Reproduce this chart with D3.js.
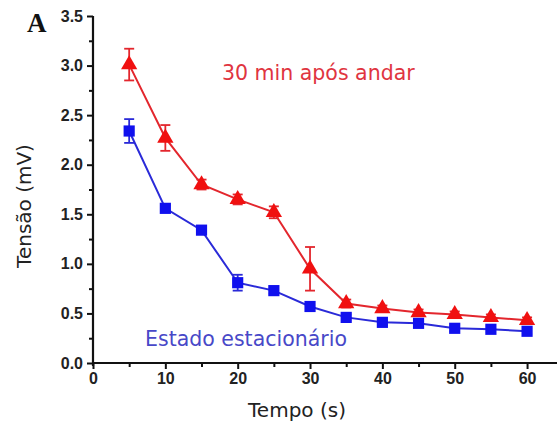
<!DOCTYPE html>
<html><head><meta charset="utf-8">
<script src="https://cdn.jsdelivr.net/npm/d3@7"></script>
<style>body{margin:0;background:#fff}svg{display:block}</style>
</head><body>
<svg id="c" width="557" height="427"></svg>
<script>
const times = [5,10,15,20,25,30,35,40,45,50,55,60];
const redValues = [3.01,2.27,1.80,1.65,1.52,0.95,0.60,0.55,0.51,0.49,0.46,0.43];
const redErrors = [0.16,0.13,0.05,0.05,0.06,0.22,0.04,0.03,0.03,0.03,0.03,0.03];
const blueValues = [2.34,1.56,1.34,0.81,0.73,0.57,0.46,0.41,0.40,0.35,0.34,0.32];
const blueErrors = [0.12,0.03,0.03,0.08,0.03,0.03,0.03,0.03,0.03,0.03,0.03,0.03];
const xTicks = [0,10,20,30,40,50,60];
const xMinor = [5,15,25,35,45,55];
const yTicks = [0,0.5,1.0,1.5,2.0,2.5,3.0,3.5];
const yMinor = [0.25,0.75,1.25,1.75,2.25,2.75,3.25];

const svg = d3.select("#c");
const x = d3.scaleLinear().domain([0,64]).range([93,556]);
const y = d3.scaleLinear().domain([0,3.5]).range([363,16]);

const yAx = svg.append("g").attr("transform","translate(93,0)")
  .call(d3.axisLeft(y).tickValues(yTicks).tickFormat(d3.format(".1f")).tickSize(6).tickPadding(4));
const yAxMinor = svg.append("g").attr("transform","translate(93,0)")
  .call(d3.axisLeft(y).tickValues(yMinor).tickFormat("").tickSize(4));
const xAx = svg.append("g").attr("transform","translate(0,363)")
  .call(d3.axisBottom(x).tickValues(xTicks).tickFormat(d3.format("d")).tickSize(6).tickPadding(4));
const xAxMinor = svg.append("g").attr("transform","translate(0,363)")
  .call(d3.axisBottom(x).tickValues(xMinor).tickFormat("").tickSize(4));
[yAx,yAxMinor,xAx,xAxMinor].forEach(g=>{
  g.select(".domain").remove();
  g.selectAll("line").attr("stroke","#111").attr("stroke-width",2);
  g.selectAll("text").attr("font-family","Liberation Sans, Arial, sans-serif")
    .attr("font-weight","bold").attr("font-size",16).attr("fill","#222");
});
svg.append("line").attr("x1",93).attr("x2",93).attr("y1",y(3.5)).attr("y2",366).attr("stroke","#111").attr("stroke-width",2.2);
svg.append("line").attr("x1",92).attr("x2",557).attr("y1",363).attr("y2",363).attr("stroke","#111").attr("stroke-width",2.2);

function series(vals, errs, color, lineColor, shape){
  const data = times.map((t,i)=>({t, v:vals[i], e:errs[i]}));
  const g = svg.append("g");
  g.append("path").datum(data)
    .attr("d", d3.line().x(d=>x(d.t)).y(d=>y(d.v)))
    .attr("fill","none").attr("stroke",lineColor).attr("stroke-width",2);
  const eb = g.selectAll(".eb").data(data).enter().append("g");
  eb.append("line").attr("x1",d=>x(d.t)).attr("x2",d=>x(d.t))
    .attr("y1",d=>y(d.v+d.e)).attr("y2",d=>y(d.v-d.e)).attr("stroke",lineColor).attr("stroke-width",1.8);
  eb.append("line").attr("x1",d=>x(d.t)-5).attr("x2",d=>x(d.t)+5)
    .attr("y1",d=>y(d.v+d.e)).attr("y2",d=>y(d.v+d.e)).attr("stroke",lineColor).attr("stroke-width",1.8);
  eb.append("line").attr("x1",d=>x(d.t)-5).attr("x2",d=>x(d.t)+5)
    .attr("y1",d=>y(d.v-d.e)).attr("y2",d=>y(d.v-d.e)).attr("stroke",lineColor).attr("stroke-width",1.8);
  g.selectAll(".m").data(data).enter().append("path")
    .attr("transform",d=>`translate(${x(d.t)},${y(d.v)})`)
    .attr("d", d3.symbol().type(shape).size(shape===d3.symbolTriangle?115:125))
    .attr("fill",color);
}
series(redValues, redErrors, "#f01010", "#e3262d", d3.symbolTriangle);
series(blueValues, blueErrors, "#1010ee", "#2a2ad8", d3.symbolSquare);

svg.append("text").attr("x",222).attr("y",80).text("30 min após andar")
  .attr("font-family","DejaVu Sans, sans-serif").attr("font-size",20.5).attr("fill","#e03440");
svg.append("text").attr("x",145).attr("y",346).text("Estado estacionário")
  .attr("font-family","DejaVu Sans, sans-serif").attr("font-size",20.5).attr("fill","#4848c8");
svg.append("text").attr("transform","translate(31,206) rotate(-90)").attr("text-anchor","middle")
  .text("Tensão (mV)").attr("font-family","DejaVu Sans, sans-serif").attr("font-size",20).attr("fill","#222");
svg.append("text").attr("x",297).attr("y",417).attr("text-anchor","middle")
  .text("Tempo (s)").attr("font-family","DejaVu Sans, sans-serif").attr("font-size",20).attr("fill","#222");
svg.append("text").attr("x",27).attr("y",32).text("A")
  .attr("font-family","Liberation Serif, Times New Roman, serif").attr("font-weight","bold").attr("font-size",27).attr("fill","#111");
</script>
</body></html>
